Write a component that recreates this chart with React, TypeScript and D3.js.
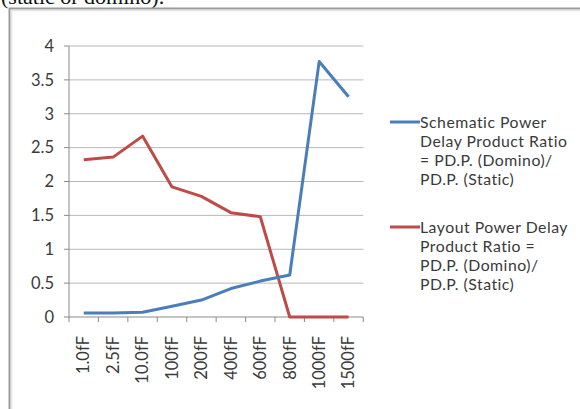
import React from "react";
import * as d3 from "d3";

// Load capacitance categories and power-delay product ratios
const categories = ["1.0fF", "2.5fF", "10.0fF", "100fF", "200fF", "400fF", "600fF", "800fF", "1000fF", "1500fF"];
const schematicRatio = [0.06, 0.06, 0.07, 0.16, 0.25, 0.42, 0.53, 0.62, 3.77, 3.25];
const layoutRatio = [2.32, 2.36, 2.67, 1.92, 1.78, 1.54, 1.48, 0.0, 0.0, 0.0];
const yTicks = [0, 0.5, 1, 1.5, 2, 2.5, 3, 3.5, 4];
const yTickLabels = ["0", "0.5", "1", "1.5", "2", "2.5", "3", "3.5", "4"];
const legendSchematic = ["Schematic Power", "Delay Product Ratio", "= PD.P. (Domino)/", "PD.P. (Static)"];
const legendLayout = ["Layout Power Delay", "Product Ratio =", "PD.P. (Domino)/", "PD.P. (Static)"];
const caption = "(static or domino).";

const W = 580;
const H = 409;
const FONT = "Lato, Open Sans, sans-serif";
const FS = 16.5;
const LEGEND_FS = 15.8;
const LEGEND_STEP = 19;
const TEXT = "#3a3a3a";
const BLUE = "#4a7ebb";
const RED = "#be4b48";

export default function App() {
  const x = d3.scaleBand<string>().domain(categories).range([69, 363.3]);
  const y = d3.scaleLinear().domain([0, 4]).range([317, 46]);
  const cx = (c: string) => (x(c) ?? 0) + x.bandwidth() / 2;

  const line = d3
    .line<number>()
    .x((_, i) => cx(categories[i]))
    .y((v) => y(v));

  const tickXs = [...categories.map((c) => x(c) ?? 0), 363.3];

  const legend = (lines: string[], color: string, top: number) => (
    <g>
      <line x1={390} x2={420} y1={top} y2={top} stroke={color} strokeWidth={3} />
      {lines.map((t, i) => (
        <text
          key={i}
          x={420}
          y={top + i * LEGEND_STEP}
          dy="0.35em"
          fontSize={LEGEND_FS}
          letterSpacing={0.5}
          fill={TEXT}
          fontFamily={FONT}
        >
          {t}
        </text>
      ))}
    </g>
  );

  return (
    <svg width={W} height={H} style={{ position: "absolute", left: 0, top: 0, background: "#fff" }}>
      <text x={1} y={4} fontSize={22} fontFamily="Liberation Serif, serif" fill="#111">
        {caption}
      </text>
      {/* chart frame */}
      <path d={`M9.5,${H + 2} V8.5 H${W + 2}`} fill="none" stroke="#9a9a9a" strokeWidth={2} />
      <path d={`M11.5,${H + 2} V10.5 H${W + 2}`} fill="none" stroke="#e4e4e4" strokeWidth={1.5} />

      {/* gridlines */}
      {yTicks.slice(1).map((v) => (
        <line key={v} x1={69} x2={363.3} y1={y(v)} y2={y(v)} stroke="#b8b8b8" strokeWidth={1} />
      ))}
      {/* y axis */}
      <line x1={69} x2={69} y1={y(4)} y2={y(0)} stroke="#8a8a8a" strokeWidth={1} />
      {yTicks.map((v, i) => (
        <g key={v}>
          <line x1={64} x2={69} y1={y(v)} y2={y(v)} stroke="#8a8a8a" />
          <text x={54} y={y(v)} dy="0.35em" textAnchor="end" fontSize={FS} fill={TEXT} fontFamily={FONT}>
            {yTickLabels[i]}
          </text>
        </g>
      ))}
      {/* x axis */}
      <line x1={69} x2={363.3} y1={y(0)} y2={y(0)} stroke="#8a8a8a" />
      {tickXs.map((tx, i) => (
        <line key={i} x1={tx} x2={tx} y1={y(0)} y2={y(0) + 5} stroke="#8a8a8a" />
      ))}
      {categories.map((c) => (
        <text
          key={c}
          transform={`translate(${cx(c)},${y(0) + 19}) rotate(-90)`}
          textAnchor="end"
          dy="0.35em"
          fontSize={FS}
          fill={TEXT}
          fontFamily={FONT}
        >
          {c}
        </text>
      ))}

      {/* series */}
      <path d={line(layoutRatio) ?? ""} fill="none" stroke={RED} strokeWidth={3} strokeLinejoin="round" />
      <path d={line(schematicRatio) ?? ""} fill="none" stroke={BLUE} strokeWidth={3} strokeLinejoin="round" />

      {legend(legendSchematic, BLUE, 122)}
      {legend(legendLayout, RED, 227)}
    </svg>
  );
}
